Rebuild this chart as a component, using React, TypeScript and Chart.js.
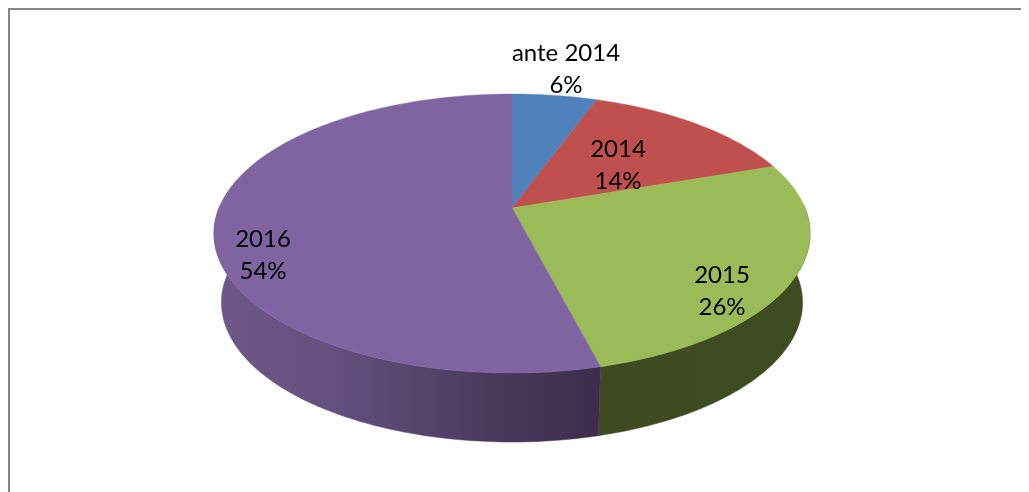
import React, { useEffect, useRef } from "react";
import { Chart, registerables } from "chart.js";

Chart.register(...registerables);

const categories = ["ante 2014", "2014", "2015", "2016"];
const shares = [5.5, 14.2, 26.3, 54];
const sliceColors = ["#4f81bd", "#c0504d", "#9bbb59", "#8064a2"];

// Perspective projection of the flat pie on the page
const PERSPECTIVE = -0.183;
const SCALE_X = 1.465;
const SCALE_Y = 0.674;
const DEPTH = 69;
const FLOOR_SHRINK = 0.975;

// Label anchors, relative to the centre of the pie
const labelOffsets = [
  [54, -155],
  [106, -59],
  [210, 67],
  [-249, 31],
];

const wallStops: Record<number, [number, string][]> = {
  0: [[0, "#34466a"], [1, "#34466a"]],
  1: [[0, "#6a2c2a"], [1, "#6a2c2a"]],
  2: [[0, "#3e4b22"], [1, "#3f4c21"]],
  3: [[0, "#6f5889"], [0.3, "#65507f"], [0.75, "#473859"], [1, "#3c2d4d"]],
};

const project = (cx: number, cy: number, r: number, a: number, floor = false) => {
  const u = Math.cos(a);
  const v = Math.sin(a);
  const w = 1 + PERSPECTIVE * v;
  const sx = floor ? FLOOR_SHRINK : 1;
  return {
    x: cx + (sx * SCALE_X * r * u) / w,
    y: cy + (SCALE_Y * r * v) / w + (floor ? DEPTH : 0),
  };
};

const pie3d = {
  id: "pie3d",
  beforeDatasetsDraw(chart: any) {
    const { ctx } = chart;
    const arcs = chart.getDatasetMeta(0).data;

    // frame
    ctx.save();
    ctx.fillStyle = "#868686";
    ctx.fillRect(0, 0, chart.width, 2);
    ctx.fillRect(0, 0, 2, chart.height);

    // walls, front half only
    arcs.forEach((arc: any, i: number) => {
      const { x, y, outerRadius: r, startAngle, endAngle } = arc;
      const from = Math.max(startAngle, -0.02);
      const to = Math.min(endAngle, Math.PI + 0.02);
      if (to <= from) return;
      const rim: any[] = [];
      const floor: any[] = [];
      const n = Math.ceil(((to - from) * 180) / Math.PI);
      for (let k = 0; k <= n; k++) {
        const a = from + ((to - from) * k) / n;
        rim.push(project(x, y, r, a));
        floor.push(project(x, y, r, a, true));
      }
      const xs = rim.concat(floor).map((p) => p.x);
      const gradient = ctx.createLinearGradient(Math.min(...xs), 0, Math.max(...xs), 0);
      wallStops[i].forEach(([s, c]) => gradient.addColorStop(s, c));
      // the purple wall runs from the left (light) to the right (dark)
      ctx.beginPath();
      rim.forEach((p, k) => (k ? ctx.lineTo(p.x, p.y) : ctx.moveTo(p.x, p.y)));
      floor.reverse().forEach((p) => ctx.lineTo(p.x, p.y));
      ctx.closePath();
      ctx.fillStyle = gradient;
      ctx.strokeStyle = gradient;
      ctx.lineWidth = 0.5;
      ctx.fill();
      ctx.stroke();
    });

    // top face
    arcs.forEach((arc: any) => {
      const { x, y, outerRadius: r, startAngle, endAngle } = arc;
      const n = Math.ceil(((endAngle - startAngle) * 180) / Math.PI);
      ctx.beginPath();
      ctx.moveTo(x, y);
      for (let k = 0; k <= n; k++) {
        const p = project(x, y, r, startAngle + ((endAngle - startAngle) * k) / n);
        ctx.lineTo(p.x, p.y);
      }
      ctx.closePath();
      ctx.fillStyle = arc.options.backgroundColor;
      ctx.strokeStyle = arc.options.backgroundColor;
      ctx.lineWidth = 0.5;
      ctx.fill();
      ctx.stroke();
    });

    // labels
    ctx.fillStyle = "#000000";
    ctx.font = '24px Lato, "Open Sans", sans-serif';
    ctx.textAlign = "center";
    ctx.textBaseline = "middle";
    arcs.forEach((arc: any, i: number) => {
      const [dx, dy] = labelOffsets[i];
      ctx.fillText(categories[i], arc.x + dx, arc.y + dy);
      ctx.fillText(`${Math.round(shares[i])}%`, arc.x + dx, arc.y + dy + 32);
    });
    ctx.restore();
    return false;
  },
};

export default function App() {
  const ref = useRef<HTMLCanvasElement>(null);
  useEffect(() => {
    const chart = new Chart(ref.current!, {
      type: "pie",
      data: {
        labels: categories,
        datasets: [{ data: shares, backgroundColor: sliceColors, borderWidth: 0 }],
      },
      options: {
        animation: false,
        responsive: false,
        layout: { padding: { right: 13, bottom: 84 } },
        plugins: { legend: { display: false }, tooltip: { enabled: false } },
      },
      plugins: [pie3d],
    });
    return () => chart.destroy();
  }, []);
  return <canvas ref={ref} width={1021} height={484} style={{ display: "block" }} />;
}
